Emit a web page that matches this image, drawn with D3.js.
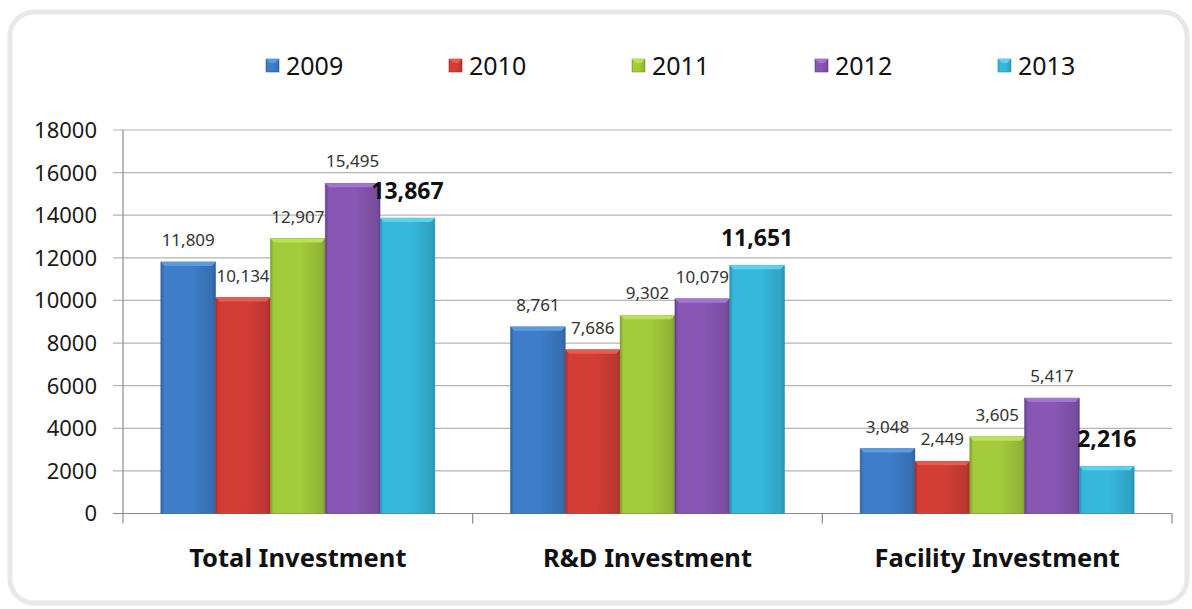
<!DOCTYPE html>
<html>
<head>
<meta charset="utf-8">
<script src="https://cdn.jsdelivr.net/npm/d3@7"></script>
<style>
  html, body { margin: 0; padding: 0; background: #ffffff; }
  svg { display: block; }
</style>
</head>
<body>
<svg id="chart" width="1192" height="609"></svg>
<script>
// ---- data ----
const categories = ["Total Investment", "R&D Investment", "Facility Investment"];
const years = ["2009", "2010", "2011", "2012", "2013"];
const values2009 = [11809, 8761, 3048];
const values2010 = [10134, 7686, 2449];
const values2011 = [12907, 9302, 3605];
const values2012 = [15495, 10079, 5417];
const values2013 = [13867, 11651, 2216];
const yTicks = [0, 2000, 4000, 6000, 8000, 10000, 12000, 14000, 16000, 18000];

(function () {
const seriesValues = [values2009, values2010, values2011, values2012, values2013];
const colors = [
  { base: "#3d7dc9", light: "#5c9be2", dark: "#2f5f9e" },
  { base: "#d33d36", light: "#e55a52", dark: "#a82d28" },
  { base: "#a3cb3c", light: "#bde05a", dark: "#7f9f2c" },
  { base: "#8757b3", light: "#a475d0", dark: "#63418a" },
  { base: "#35b8dc", light: "#5fd0ef", dark: "#2690b0" }
];

const svg = d3.select("#chart");
const font = "'Noto Sans', 'DejaVu Sans', sans-serif";

// frame
svg.append("rect")
  .attr("x", 10).attr("y", 12).attr("width", 1177).attr("height", 591)
  .attr("rx", 24).attr("ry", 24)
  .attr("fill", "#ffffff").attr("stroke", "#e8e8e8").attr("stroke-width", 5);

// gradients
const defs = svg.append("defs");
colors.forEach((c, i) => {
  const g = defs.append("linearGradient").attr("id", "grad" + i)
    .attr("x1", "0%").attr("x2", "100%").attr("y1", "0%").attr("y2", "0%");
  g.append("stop").attr("offset", "0%").attr("stop-color", c.dark);
  g.append("stop").attr("offset", "6%").attr("stop-color", c.base);
  g.append("stop").attr("offset", "55%").attr("stop-color", c.base);
  g.append("stop").attr("offset", "94%").attr("stop-color", d3.color(c.base).darker(0.35));
  g.append("stop").attr("offset", "100%").attr("stop-color", c.dark);
});

// scales
const plotLeft = 123, plotRight = 1172, plotTop = 130, plotBottom = 513.5;
const x0 = d3.scaleBand().domain(categories).range([plotLeft, plotRight]).paddingInner(0).paddingOuter(0);
const x1 = d3.scaleBand().domain(years).range([0, x0.bandwidth()]).paddingInner(0).paddingOuter(0.69);
const y = d3.scaleLinear().domain([0, 18000]).range([plotBottom, plotTop]);

// gridlines
svg.append("g").selectAll("line").data(yTicks).join("line")
  .attr("x1", plotLeft - 10).attr("x2", plotRight)
  .attr("y1", d => y(d)).attr("y2", d => y(d))
  .attr("stroke", d => d === 0 ? "#8a8a8a" : "#b4b4b4").attr("stroke-width", 1.2);

// y axis line
svg.append("line").attr("x1", plotLeft).attr("x2", plotLeft).attr("y1", plotTop).attr("y2", plotBottom)
  .attr("stroke", "#8a8a8a").attr("stroke-width", 1.2);

// y tick labels
svg.append("g").selectAll("text").data(yTicks).join("text")
  .attr("x", 97).attr("y", d => y(d)).attr("dy", "0.36em")
  .attr("text-anchor", "end")
  .attr("font-family", font).attr("font-size", 22).attr("fill", "#1a1a1a")
  .text(d => d);

// x ticks at category boundaries
const boundaries = categories.map(c => x0(c)).concat([plotRight]);
svg.append("g").selectAll("line").data(boundaries).join("line")
  .attr("x1", d => d).attr("x2", d => d).attr("y1", plotBottom).attr("y2", plotBottom + 10)
  .attr("stroke", "#8a8a8a").attr("stroke-width", 1.2);

// bars
const groups = svg.append("g").selectAll("g").data(categories).join("g")
  .attr("transform", c => `translate(${x0(c)},0)`);

groups.each(function (c, ci) {
  const g = d3.select(this);
  years.forEach((yr, si) => {
    const v = seriesValues[si][ci];
    const bx = x1(yr), bw = x1.bandwidth();
    const by = y(v), bh = y(0) - y(v);
    g.append("rect").attr("x", bx).attr("y", by).attr("width", bw).attr("height", bh)
      .attr("fill", `url(#grad${si})`)
      .attr("stroke", colors[si].dark).attr("stroke-opacity", 0.6).attr("stroke-width", 0.8);
    g.append("path")
      .attr("d", `M${bx},${by} L${bx + bw},${by} L${bx + bw - 4},${by + 4} L${bx + 4},${by + 4} Z`)
      .attr("fill", colors[si].light);
    const bold = si === years.length - 1;
    g.append("text")
      .attr("x", bx + bw / 2)
      .attr("y", by - (bold ? 19 : 16))
      .attr("text-anchor", "middle")
      .attr("font-family", font)
      .attr("font-size", bold ? 23 : 17)
      .attr("font-weight", bold ? "bold" : "normal")
      .attr("fill", bold ? "#111111" : "#333333")
      .text(d3.format(",")(v));
  });
});

// category labels
svg.append("g").selectAll("text").data(categories).join("text")
  .attr("x", c => x0(c) + x0.bandwidth() / 2).attr("y", 567)
  .attr("text-anchor", "middle")
  .attr("font-family", font).attr("font-size", 25.5).attr("font-weight", "bold").attr("fill", "#111111")
  .text(c => c);

// legend
const legendX = d3.scalePoint().domain(years).range([266, 998]);
const lg = svg.append("g").selectAll("g").data(years).join("g")
  .attr("transform", d => `translate(${legendX(d)},59)`);
lg.append("rect").attr("width", 13).attr("height", 13)
  .attr("fill", (d, i) => `url(#grad${i})`)
  .attr("stroke", (d, i) => colors[i].dark).attr("stroke-width", 0.6);
lg.append("path").attr("d", "M0,0 L13,0 L9,4 L4,4 Z").attr("fill", (d, i) => colors[i].light);
lg.append("text").attr("x", 20).attr("y", 7).attr("dy", "0.36em")
  .attr("font-family", font).attr("font-size", 25).attr("fill", "#111111")
  .text(d => d);
})();
</script>
</body>
</html>
